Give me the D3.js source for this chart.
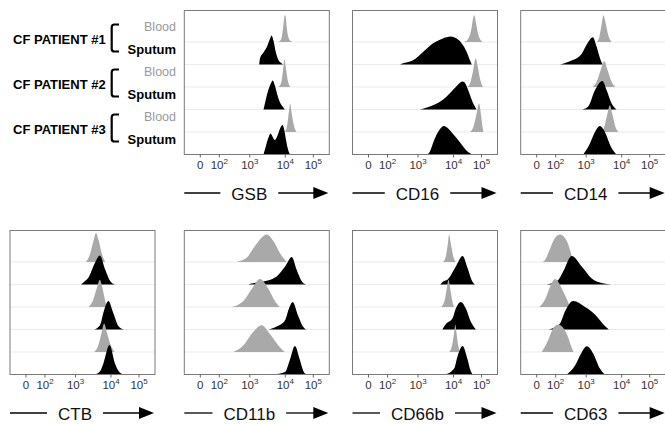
<!DOCTYPE html>
<html>
<head>
<meta charset="utf-8">
<title>CF blood vs sputum</title>
<script src="https://cdn.jsdelivr.net/npm/d3@7"></script>
<style>
  body { margin: 0; background: #fff; }
  text { font-family: "Liberation Sans", Arial, sans-serif; }
</style>
</head>
<body>
<svg width="665" height="424" id="mainsvg"></svg>
<script>
const patients = ['CF PATIENT #1', 'CF PATIENT #2', 'CF PATIENT #3'];
const samples = ['Blood', 'Sputum'];
const markers = ['GSB', 'CD16', 'CD14', 'CTB', 'CD11b', 'CD66b', 'CD63'];
const tickVals = [0, 2, 3, 4, 5]; // "0", then log10 decades

// histograms: [log10 intensity, relative count]
// order: P1 blood, P1 sputum, P2 blood, P2 sputum, P3 blood, P3 sputum
const gsb = [
  [[3.82,0],[3.9,10],[3.95,45],[4.0,90],[4.03,85],[4.08,40],[4.15,10],[4.27,0]],
  [[3.28,0],[3.30,20],[3.40,40],[3.50,60],[3.58,85],[3.63,97],[3.68,80],[3.75,40],[3.82,15],[3.9,5],[3.95,0]],
  [[3.82,0],[3.9,15],[3.95,55],[3.99,93],[4.03,70],[4.1,25],[4.2,0]],
  [[3.40,0],[3.44,20],[3.5,50],[3.6,85],[3.66,97],[3.72,80],[3.8,45],[3.88,20],[3.95,8],[4.0,0]],
  [[4.0,0],[4.08,20],[4.15,70],[4.19,95],[4.25,60],[4.33,20],[4.42,0]],
  [[3.40,0],[3.46,25],[3.55,60],[3.60,70],[3.66,58],[3.72,48],[3.8,65],[3.88,90],[3.93,98],[3.98,85],[4.05,45],[4.12,15],[4.19,0]]
];
const cd16 = [
  [[4.40,0],[4.55,12],[4.65,40],[4.72,80],[4.76,89],[4.82,65],[4.9,25],[5.0,5],[5.05,0]],
  [[2.43,0],[2.5,3],[2.84,13],[3.14,40],[3.42,69],[3.70,86],[3.94,93],[4.1,88],[4.28,74],[4.52,35],[4.6,15],[4.67,0]],
  [[4.52,0],[4.62,15],[4.72,55],[4.81,95],[4.88,70],[4.97,25],[5.07,0]],
  [[3.06,0],[3.2,4],[3.42,13],[3.8,41],[4.1,75],[4.34,93],[4.45,85],[4.52,70],[4.70,25],[4.84,0]],
  [[4.60,0],[4.72,15],[4.83,55],[4.93,95],[4.99,65],[5.05,20],[5.09,0]],
  [[3.28,0],[3.35,10],[3.47,48],[3.61,81],[3.75,95],[3.85,88],[3.99,70],[4.28,37],[4.5,12],[4.70,0]]
];
const cd14 = [
  [[3.31,0],[3.38,15],[3.45,60],[3.50,89],[3.55,70],[3.63,25],[3.73,0]],
  [[2.16,0],[2.3,4],[2.54,13],[2.87,36],[3.07,75],[3.20,91],[3.31,58],[3.42,15],[3.48,0]],
  [[3.19,0],[3.3,15],[3.42,55],[3.52,86],[3.62,55],[3.72,20],[3.83,0]],
  [[2.89,0],[3.07,10],[3.26,64],[3.47,95],[3.59,64],[3.73,20],[3.87,0]],
  [[3.45,0],[3.53,20],[3.62,65],[3.68,89],[3.75,60],[3.83,20],[3.92,0]],
  [[2.92,0],[3.12,37],[3.26,75],[3.40,95],[3.54,75],[3.71,26],[3.87,0]]
];
const ctb = [
  [[3.31,0],[3.42,25],[3.52,70],[3.59,97],[3.66,75],[3.75,30],[3.85,0]],
  [[3.17,0],[3.25,8],[3.38,23],[3.56,72],[3.70,97],[3.85,50],[3.99,12],[4.16,0]],
  [[3.38,0],[3.5,20],[3.62,65],[3.70,91],[3.78,60],[3.85,20],[3.89,0]],
  [[3.54,0],[3.70,13],[3.82,64],[3.94,95],[4.10,55],[4.28,12],[4.48,0]],
  [[3.54,0],[3.65,20],[3.75,65],[3.82,95],[3.9,65],[4.02,20],[4.16,0]],
  [[3.56,0],[3.70,10],[3.80,37],[3.97,98],[4.16,37],[4.3,10],[4.46,0]]
];
const cd11b = [
  [[2.59,0],[2.75,5],[2.91,14],[3.16,53],[3.35,82],[3.49,92],[3.68,70],[3.86,30],[4.07,0]],
  [[2.97,0],[3.1,4],[3.39,10],[3.77,27],[4.01,60],[4.25,92],[4.42,50],[4.60,12],[4.76,0]],
  [[2.42,0],[2.6,6],[2.80,19],[3.07,60],[3.30,93],[3.54,60],[3.72,20],[3.86,0]],
  [[3.54,0],[3.77,10],[4.01,31],[4.15,70],[4.28,92],[4.48,45],[4.66,8],[4.76,0]],
  [[2.48,0],[2.80,22],[3.11,67],[3.35,89],[3.58,60],[3.86,16],[4.0,0]],
  [[3.68,0],[4.01,8],[4.18,48],[4.36,95],[4.54,48],[4.66,12],[4.78,0]]
];
const cd66b = [
  [[3.72,0],[3.8,20],[3.86,65],[3.89,92],[3.94,60],[4.02,15],[4.10,0]],
  [[3.64,0],[3.72,10],[3.85,17],[4.10,60],[4.34,95],[4.52,55],[4.68,12],[4.79,0]],
  [[3.66,0],[3.76,20],[3.83,65],[3.87,91],[3.93,55],[3.98,20],[4.04,0]],
  [[3.70,0],[3.80,18],[3.99,38],[4.10,70],[4.28,92],[4.46,70],[4.64,25],[4.82,0]],
  [[3.89,0],[3.97,20],[4.04,65],[4.08,92],[4.13,60],[4.19,20],[4.25,0]],
  [[3.78,0],[4.04,20],[4.16,60],[4.34,95],[4.52,50],[4.62,15],[4.70,0]]
];
const cd63 = [
  [[0.68,0],[1.0,10],[1.27,30],[1.98,80],[2.16,92],[2.38,70],[2.54,20],[2.59,0]],
  [[1.1,0],[1.6,3],[2.10,15],[2.27,45],[2.54,95],[2.87,60],[3.17,20],[3.45,5],[3.73,0]],
  [[0.33,0],[0.93,25],[1.5,70],[1.98,93],[2.27,50],[2.49,0]],
  [[1.27,0],[1.8,5],[2.16,20],[2.32,60],[2.59,95],[2.98,75],[3.26,50],[3.54,12],[3.65,0]],
  [[0.58,0],[1.27,40],[1.8,80],[2.10,92],[2.38,60],[2.54,15],[2.6,0]],
  [[2.38,0],[2.65,30],[2.85,70],[3.03,94],[3.21,70],[3.40,20],[3.54,0]]
];

const svg = d3.select('svg');
const PW = 145, PH = 144, STEP = 22.5;
const cols = [10, 184.3, 352.5, 520.7];
const rowsBottom = [154.5, 374.5];
const panels = [
  { m: markers[0], data: gsb,   c: 1, r: 0 },
  { m: markers[1], data: cd16,  c: 2, r: 0 },
  { m: markers[2], data: cd14,  c: 3, r: 0 },
  { m: markers[3], data: ctb,   c: 0, r: 1 },
  { m: markers[4], data: cd11b, c: 1, r: 1 },
  { m: markers[5], data: cd66b, c: 2, r: 1 },
  { m: markers[6], data: cd63,  c: 3, r: 1 }
];

// biexponential-like display axis: piecewise between the ticks
const x = d3.scaleLinear().domain(tickVals).range([15.5, 34.5, 65, 100.5, 128.5]);
const yH = d3.scaleLinear().domain([0, 100]).range([0, 30]);
const base = i => PH - (5 - i) * STEP;
const area = d3.area()
  .x(d => x(d[0])).y0(0).y1(d => -yH(d[1]))
  .curve(d3.curveMonotoneX);

panels.forEach((p, k) => {
  const g = svg.append('g')
    .attr('transform', `translate(${cols[p.c]},${rowsBottom[p.r] - PH})`);

  g.append('clipPath').attr('id', 'clip' + k)
    .append('rect').attr('width', PW).attr('height', PH);
  const inner = g.append('g').attr('clip-path', `url(#clip${k})`);

  inner.selectAll('.sep').data(d3.range(5)).join('line').attr('class', 'sep')
    .attr('x1', 0).attr('x2', PW).attr('y1', base).attr('y2', base)
    .attr('stroke', '#ebebeb').attr('stroke-width', 1);

  inner.selectAll('.hist').data(p.data).join('path').attr('class', 'hist')
    .attr('transform', (d, i) => `translate(0,${base(i)})`)
    .attr('d', area)
    .attr('fill', (d, i) => i % 2 ? '#000' : '#a9a9a9');

  g.append('rect').attr('width', PW).attr('height', PH)
    .attr('fill', 'none').attr('stroke', '#7a7a7a').attr('stroke-width', 1);

  const ax = g.append('g').attr('transform', `translate(0,${PH})`)
    .call(d3.axisBottom(x).tickValues(tickVals).tickSize(3).tickFormat(''));
  ax.select('.domain').remove();
  ax.attr('color', '#666').attr('font-family', null).attr('font-size', 11.5);
  ax.selectAll('.tick text').attr('fill', '#333').each(function (d) {
    const t = d3.select(this);
    if (d === 0) { t.text('0'); return; }
    t.append('tspan').text('10');
    t.append('tspan').attr('dy', -4.5).attr('font-size', 8).text(d);
  });

  // marker label with line and arrow
  const ly = PH + 45, cx = 65;
  const lab = g.append('text').attr('x', cx).attr('y', ly)
    .attr('text-anchor', 'middle').attr('font-size', 17).attr('fill', '#111')
    .text(p.m);
  const w = lab.node().getComputedTextLength();
  g.append('line').attr('x1', 0).attr('x2', cx - w / 2 - 11)
    .attr('y1', ly - 6.5).attr('y2', ly - 6.5)
    .attr('stroke', '#000').attr('stroke-width', 1.3);
  g.append('line').attr('x1', cx + w / 2 + 11).attr('x2', 131)
    .attr('y1', ly - 6.5).attr('y2', ly - 6.5)
    .attr('stroke', '#000').attr('stroke-width', 1.3);
  g.append('path')
    .attr('d', `M129,${ly - 12.5} L144,${ly - 6.5} L129,${ly - 0.5} Z`)
    .attr('fill', '#000');
});

// sample legend on the left
const top0 = rowsBottom[0] - PH;
const left = svg.append('g').attr('transform', `translate(0,${top0})`);
patients.forEach((pt, j) => {
  const bb = base(2 * j), sb = base(2 * j + 1);
  left.append('text').attr('x', 13).attr('y', bb + 1.6)
    .attr('font-size', 13).attr('font-weight', 'bold').attr('fill', '#000').text(pt);
  left.append('text').attr('x', 176).attr('y', bb - 11).attr('text-anchor', 'end')
    .attr('font-size', 12.5).attr('fill', '#9a9a9a').text(samples[0]);
  left.append('text').attr('x', 176).attr('y', sb - 10.5).attr('text-anchor', 'end')
    .attr('font-size', 13).attr('font-weight', 'bold').attr('fill', '#000').text(samples[1]);
  const t = bb - 17.5, b = bb + 9.5;
  left.append('path')
    .attr('d', `M119,${t} L114.5,${t} Q111.7,${t} 111.7,${t + 2.8} L111.7,${b - 2.8} Q111.7,${b} 114.5,${b} L119,${b}`)
    .attr('fill', 'none').attr('stroke', '#000').attr('stroke-width', 2.2);
});
</script>
</body>
</html>
